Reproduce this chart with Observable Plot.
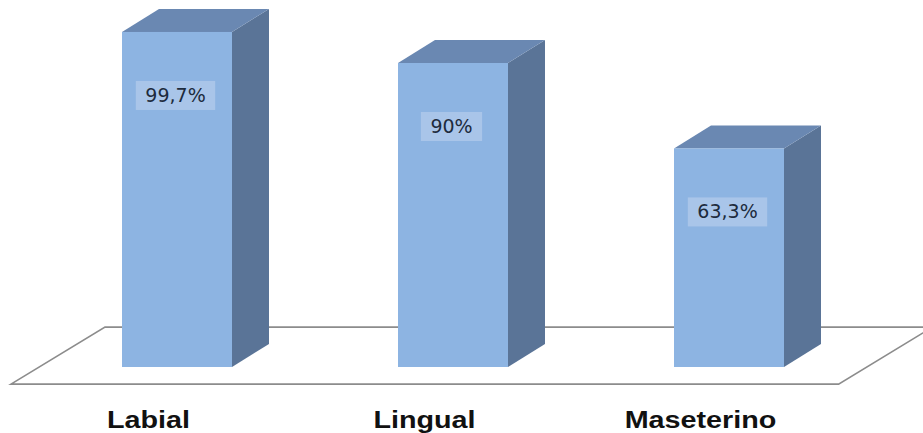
<!DOCTYPE html>
<html>
<head>
<meta charset="utf-8">
<script src="https://cdn.jsdelivr.net/npm/d3@7"></script>
<script src="https://cdn.jsdelivr.net/npm/@observablehq/plot@0.6"></script>
<style>
  html, body { margin: 0; padding: 0; background: #fff; }
  #chart svg { display: block; }
</style>
</head>
<body>
<div id="chart"></div>
<script>
// ---- data ----
const categories = ["Labial", "Lingual", "Maseterino"];
const values = [99.7, 90, 63.3];
const valueLabels = ["99,7%", "90%", "63,3%"];

// ---- layout / style constants ----
const FLOOR = -5;          // floor level in value units (3D perspective offset)
const DEPTH_X = 37, DEPTH_Y = 23;   // bar depth projection (px)
const FRONT = "#8db4e2", SIDE = "#5a7497", TOP = "#6a88b2";

const data = categories.map((c, i) => ({cat: c, value: values[i], label: valueLabels[i]}));

function bandwidthOf(scale) {
  let b = scale.bandwidth;
  if (typeof b === "function") b = b.call(scale);
  if (b == null || isNaN(b)) b = (785 - 121) / 2.4 * 0.4;
  return +b;
}

// 3D side & top faces
function faces(index, scales, vals) {
  const g = d3.create("svg:g");
  const bw = bandwidthOf(scales.x);
  for (const i of index) {
    const x0 = +vals.x[i], x1 = x0 + bw, yT = +vals.y2[i], yB = +vals.y1[i];
    g.append("polygon")
      .attr("points", [[x1, yT], [x1 + DEPTH_X, yT - DEPTH_Y], [x1 + DEPTH_X, yB - DEPTH_Y], [x1, yB]].join(" "))
      .attr("fill", SIDE);
    g.append("polygon")
      .attr("points", [[x0, yT], [x0 + DEPTH_X, yT - DEPTH_Y], [x1 + DEPTH_X, yT - DEPTH_Y], [x1, yT]].join(" "))
      .attr("fill", TOP);
  }
  return g.node();
}

// floor parallelogram
function floor(index, scales, vals) {
  const g = d3.create("svg:g");
  const bw = bandwidthOf(scales.x);
  const xs = Array.from(index, i => +vals.x[i]);
  const step = xs.length > 1 ? (d3.max(xs) - d3.min(xs)) / (xs.length - 1) : bw * 2.5;
  const yB = +vals.y1[index[0]];
  const pad = 0.3 * step;
  const fdx = 94, fdy = 57, front = 0.3; // floor depth & bar position within it
  const fl = d3.min(xs) - pad - front * fdx, fr = d3.max(xs) + bw + pad - front * fdx;
  const fy = yB + front * fdy;
  g.append("polygon")
    .attr("points", [[fl, fy], [fl + fdx, fy - fdy], [fr + fdx, fy - fdy], [fr, fy]].join(" "))
    .attr("fill", "none").attr("stroke", "#8c8c8c").attr("stroke-width", 1.6);
  return g.node();
}

const ctx2d = document.createElement("canvas").getContext("2d");
ctx2d.font = "19px 'DejaVu Sans'";

function labelBoxes(index, scales, vals, dims, context, next) {
  const g = next(index, scales, vals, dims, context);
  const texts = d3.select(g).selectAll("text").nodes();
  texts.forEach((t) => {
    const txt = t.textContent;
    const w = ctx2d.measureText(txt).width + 19;
    const tr = t.getAttribute("transform") || "";
    const m = /translate\(([-\d.e]+)[ ,]+([-\d.e]+)\)/.exec(tr);
    let cx = m ? +m[1] : +(t.getAttribute("x") || 0);
    let cy = m ? +m[2] : +(t.getAttribute("y") || 0);
    const r = document.createElementNS("http://www.w3.org/2000/svg", "rect");
    r.setAttribute("x", cx - w / 2);
    r.setAttribute("y", cy - 14.5);
    r.setAttribute("width", w);
    r.setAttribute("height", 29);
    r.setAttribute("fill", "#a9c5e9");
    t.parentNode.insertBefore(r, t);
  });
  return g;
}

function stretch(index, scales, vals, dims, context, next) {
  const g = next(index, scales, vals, dims, context);
  d3.select(g).selectAll("text").each(function () {
    const tr = this.getAttribute("transform");
    if (tr) this.setAttribute("transform", tr + " scale(1.25,1)");
    else {
      const x = +(this.getAttribute("x") || 0), y = +(this.getAttribute("y") || 0);
      this.removeAttribute("x"); this.removeAttribute("y");
      this.setAttribute("transform", `translate(${x},${y}) scale(1.25,1)`);
    }
  });
  return g;
}

const chart = Plot.plot({
  width: 923,
  height: 433,
  marginTop: 31,
  marginBottom: 66,
  marginLeft: 0,
  marginRight: 0,
  x: {domain: categories, range: [121, 785], paddingInner: 0.6, paddingOuter: 0, axis: null},
  y: {domain: [FLOOR, 100], axis: null},
  marks: [
    Plot.barY(data, {x: "cat", y1: FLOOR, y2: "value", render: floor}),
    Plot.barY(data, {x: "cat", y1: FLOOR, y2: "value", render: faces}),
    Plot.barY(data, {x: "cat", y1: FLOOR, y2: "value", fill: FRONT}),
    Plot.text(data, {
      x: "cat", y: "value", text: "label", dy: 63, dx: -2,
      fontSize: 19, fontFamily: "DejaVu Sans", fill: "#1d2b3d",
      lineAnchor: "middle", render: labelBoxes
    }),
    Plot.text(data, {
      x: "cat", y: FLOOR, text: "cat", dy: 60, dx: -29,
      fontSize: 23, fontWeight: "bold", fontFamily: "Liberation Sans, Arial, sans-serif",
      fill: "#111", lineAnchor: "bottom", render: stretch
    })
  ]
});
document.getElementById("chart").appendChild(chart);
</script>
</body>
</html>
